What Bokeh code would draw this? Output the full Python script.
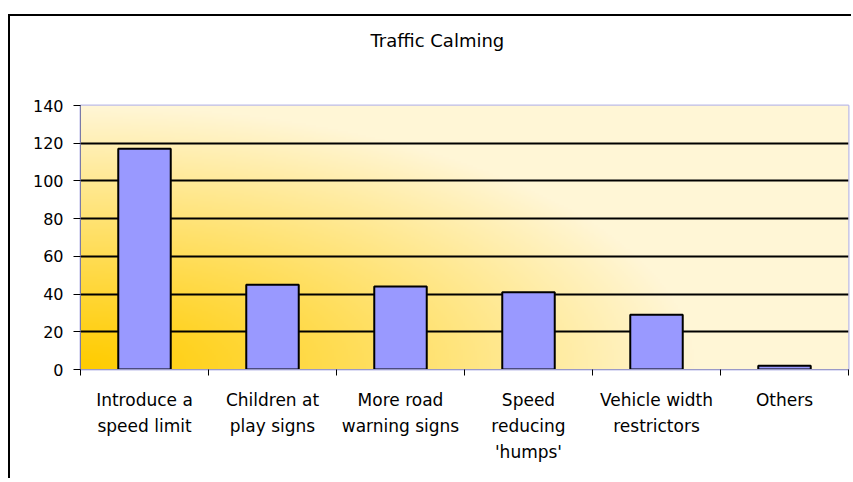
import numpy as np
from bokeh.plotting import figure
from bokeh.models import Range1d, FixedTicker, ColumnDataSource, Title
from bokeh.embed import file_html
from bokeh.resources import INLINE

title_text = "Traffic Calming"
categories = ["Introduce a speed limit", "Children at play signs", "More road warning signs",
              "Speed reducing 'humps'", "Vehicle width restrictors", "Others"]
tick_labels = ["Introduce a\nspeed limit", "Children at\nplay signs", "More road\nwarning signs",
               "Speed\nreducing\n'humps'", "Vehicle width\nrestrictors", "Others"]
values = [117, 45, 44, 41, 29, 2]
y_ticks = [0, 20, 40, 60, 80, 100, 120, 140]

n = len(categories)
centers = [i + 0.5 for i in range(n)]
bounds = list(range(n + 1))

FONT = "DejaVu Sans"

p = figure(width=843, height=464, output_backend="svg", toolbar_location=None,
           x_range=Range1d(0, n), y_range=Range1d(y_ticks[0], y_ticks[-1]),
           min_border_left=70, min_border_right=5, min_border_top=89, min_border_bottom=111,
           background_fill_color="#FFF5D6", border_fill_color="white")
p.styles = {"margin-top": "14px", "margin-left": "8px",
            "border-top": "2px solid black", "border-left": "2px solid black"}

# spacer between plot area and title
p.add_layout(Title(text=" ", text_font_size="10px", standoff=37), "above")

p.title.text = title_text
p.title.align = "left"
p.title.offset = 290
p.title.standoff = 10
p.title.text_font = FONT
p.title.text_font_size = "18px"
p.title.text_font_style = "normal"
p.title.text_color = "black"

# gradient background of the plot area (from bottom-left corner)
H, W = 132, 382
u = np.linspace(0, 1, W)[None, :]
v = np.linspace(0, 1, H)[:, None]
t = np.clip(np.sqrt((u / 0.8) ** 2 + (v / 1.0) ** 2), 0, 1) ** 1.1
c0 = np.array([255, 204, 0], dtype=float)
c1 = np.array([255, 246, 214], dtype=float)
rgb = c0[None, None, :] + (c1 - c0)[None, None, :] * t[:, :, None]
img = np.empty((H, W), dtype=np.uint32)
view = img.view(dtype=np.uint8).reshape((H, W, 4))
view[:, :, 0] = rgb[:, :, 0].astype(np.uint8)
view[:, :, 1] = rgb[:, :, 1].astype(np.uint8)
view[:, :, 2] = rgb[:, :, 2].astype(np.uint8)
view[:, :, 3] = 255
bg = p.image_rgba(image=[img], x=0, y=y_ticks[0], dw=n, dh=y_ticks[-1] - y_ticks[0])
bg.level = "image"

src = ColumnDataSource(dict(x=centers, top=values, cat=categories))
p.vbar(x="x", top="top", bottom=0, width=0.41, source=src,
       fill_color="#9999FF", line_color="black", line_width=2)

# grid
p.xgrid.visible = False
p.ygrid.ticker = FixedTicker(ticks=y_ticks[1:-1])
p.ygrid.grid_line_color = "black"
p.ygrid.grid_line_width = 2

p.outline_line_color = "#BCBCEA"
p.outline_line_width = 2

# x axis
xa = p.xaxis[0]
xa.ticker = FixedTicker(ticks=centers, minor_ticks=bounds)
xa.major_label_overrides = {c: lab for c, lab in zip(centers, tick_labels)}
xa.major_tick_out = 0
xa.major_tick_in = 0
xa.minor_tick_out = 6
xa.minor_tick_in = 0
xa.minor_tick_line_color = "black"
xa.axis_line_color = "#9A9AC8"
xa.major_label_standoff = 14
xa.major_label_text_font = FONT
xa.major_label_text_font_size = "17px"
xa.major_label_text_color = "black"
xa.major_label_text_line_height = 1.32

# y axis
ya = p.yaxis[0]
ya.ticker = FixedTicker(ticks=y_ticks)
ya.major_tick_out = 7
ya.major_tick_in = 0
ya.minor_tick_out = 0
ya.minor_tick_in = 0
ya.major_tick_line_color = "black"
ya.axis_line_color = "#7A7AA8"
ya.major_label_standoff = 10
ya.major_label_text_font = FONT
ya.major_label_text_font_size = "16px"
ya.major_label_text_color = "black"

open("out.html", "w").write(file_html(p, INLINE))
